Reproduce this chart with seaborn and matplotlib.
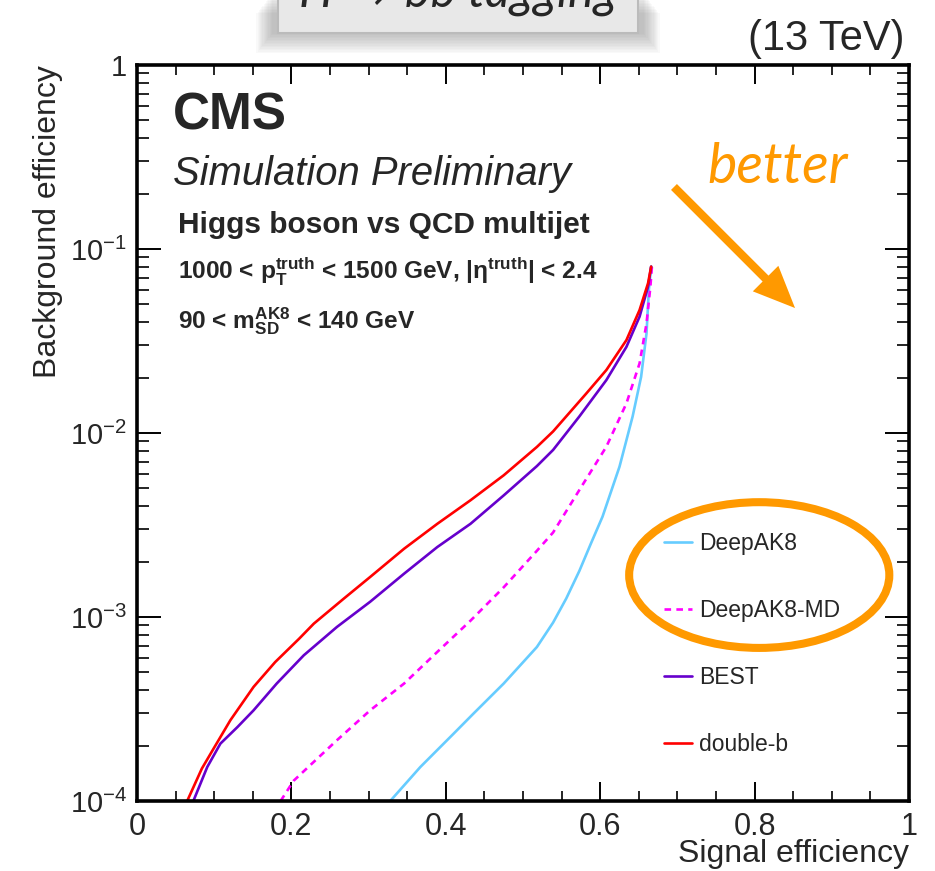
import numpy as np
import pandas as pd
import matplotlib
matplotlib.use('Agg')
import matplotlib.pyplot as plt
import seaborn as sns
from matplotlib.patches import Ellipse, Rectangle, FancyArrowPatch
from matplotlib.ticker import MultipleLocator, LogLocator, NullFormatter, FuncFormatter

# ---------------- data ----------------
taggers = ['DeepAK8', 'DeepAK8-MD', 'BEST', 'double-b']

deepak8_sig = [0.328, 0.367, 0.410, 0.436, 0.475, 0.518, 0.539, 0.556, 0.573, 0.588, 0.603, 0.625, 0.642,
               0.653, 0.660, 0.663, 0.666]
deepak8_bkg = [1.00e-4, 1.53e-4, 2.32e-4, 2.99e-4, 4.35e-4, 6.87e-4, 9.33e-4, 1.26e-3, 1.78e-3, 2.51e-3,
               3.51e-3, 6.56e-3, 1.23e-2, 2.02e-2, 3.48e-2, 5.98e-2, 8.02e-2]

deepak8md_sig = [0.186, 0.203, 0.259, 0.302, 0.346, 0.389, 0.432, 0.475, 0.518, 0.539, 0.573, 0.608, 0.634,
                 0.651, 0.660, 0.665, 0.667]
deepak8md_bkg = [1.00e-4, 1.29e-4, 2.14e-4, 3.11e-4, 4.35e-4, 6.46e-4, 9.55e-4, 1.45e-3, 2.29e-3, 2.88e-3,
                 4.90e-3, 8.43e-3, 1.45e-2, 2.39e-2, 3.94e-2, 6.24e-2, 8.02e-2]

best_sig = [0.073, 0.091, 0.108, 0.130, 0.151, 0.181, 0.216, 0.259, 0.302, 0.346, 0.389, 0.432, 0.475, 0.518,
            0.539, 0.573, 0.608, 0.634, 0.651, 0.662, 0.666]
best_bkg = [1.00e-4, 1.53e-4, 2.05e-4, 2.52e-4, 3.11e-4, 4.35e-4, 6.19e-4, 8.83e-4, 1.21e-3, 1.72e-3, 2.40e-3,
            3.21e-3, 4.58e-3, 6.61e-3, 8.09e-3, 1.23e-2, 1.94e-2, 2.94e-2, 4.29e-2, 6.24e-2, 8.02e-2]

doubleb_sig = [0.065, 0.084, 0.099, 0.121, 0.151, 0.179, 0.210, 0.229, 0.268, 0.302, 0.346, 0.389, 0.432, 0.475,
               0.518, 0.539, 0.582, 0.608, 0.634, 0.651, 0.662, 0.666]
doubleb_bkg = [1.00e-4, 1.50e-4, 1.92e-4, 2.75e-4, 4.17e-4, 5.69e-4, 7.62e-4, 9.20e-4, 1.26e-3, 1.65e-3, 2.35e-3,
               3.21e-3, 4.31e-3, 5.89e-3, 8.40e-3, 1.02e-2, 1.64e-2, 2.20e-2, 3.20e-2, 4.66e-2, 6.52e-2, 8.02e-2]

x_ticks = [0, 0.2, 0.4, 0.6, 0.8, 1.0]
y_ticks = [1e-4, 1e-3, 1e-2, 1e-1, 1]
y_tick_labels = [r'$10^{-4}$', r'$10^{-3}$', r'$10^{-2}$', r'$10^{-1}$', '1']

colors = {'DeepAK8': '#66CCFF', 'DeepAK8-MD': '#FF00FF', 'BEST': '#6600CC', 'double-b': '#FF0000'}
dashes = {'DeepAK8': '', 'DeepAK8-MD': (2.5, 2.0), 'BEST': '', 'double-b': ''}
orange = '#FF9900'

frames = []
for name, s, b in [('DeepAK8', deepak8_sig, deepak8_bkg),
                   ('DeepAK8-MD', deepak8md_sig, deepak8md_bkg),
                   ('BEST', best_sig, best_bkg),
                   ('double-b', doubleb_sig, doubleb_bkg)]:
    frames.append(pd.DataFrame({'signal': s, 'background': b, 'tagger': name}))
df = pd.concat(frames, ignore_index=True)

# ---------------- style ----------------
sns.set_style('ticks')
plt.rcParams['font.family'] = ['Liberation Sans', 'DejaVu Sans']
plt.rcParams['mathtext.fontset'] = 'custom'
plt.rcParams['mathtext.rm'] = 'Liberation Sans'
plt.rcParams['mathtext.sf'] = 'Liberation Sans'
plt.rcParams['mathtext.it'] = 'Liberation Sans:italic'
plt.rcParams['mathtext.bf'] = 'Liberation Sans:bold'

W, H = 935, 871
fig = plt.figure(figsize=(W / 100, H / 100), dpi=100)
ax = fig.add_axes([137 / W, 1 - 801 / H, 772 / W, 736 / H])

sns.lineplot(data=df, x='signal', y='background', hue='tagger', style='tagger',
             hue_order=taggers, style_order=taggers, palette=colors, dashes=dashes,
             sort=False, estimator=None, linewidth=1.9, ax=ax)

ax.set_yscale('log')
ax.set_xlim(0, 1)
ax.set_ylim(1e-4, 1)

ax.set_xticks(x_ticks)
ax.xaxis.set_major_formatter(FuncFormatter(lambda v, p: f'{v:g}'))
ax.xaxis.set_minor_locator(MultipleLocator(0.05))
ax.set_yticks(y_ticks)
ax.set_yticklabels(y_tick_labels)
ax.yaxis.set_minor_locator(LogLocator(base=10, subs=np.arange(2, 10)))
ax.yaxis.set_minor_formatter(NullFormatter())

for sp in ax.spines.values():
    sp.set_linewidth(2.6)
    sp.set_color('black')
ax.tick_params(which='both', direction='in', top=True, right=True, color='black')
ax.tick_params(axis='x', which='major', length=14, width=1.4, labelsize=22, pad=8)
ax.tick_params(axis='x', which='minor', length=7, width=1.2)
ax.tick_params(axis='y', which='major', length=17, width=1.4, labelsize=21, pad=7)
ax.tick_params(axis='y', which='minor', length=8.5, width=1.2)

ax.set_xlabel('Signal efficiency', fontsize=23, loc='right')
ax.xaxis.set_label_coords(1.0, -0.052)
ax.set_ylabel('Background efficiency', fontsize=23, loc='top')
ax.yaxis.set_label_coords(-0.096, 1.0)

# legend
handles, labels = ax.get_legend_handles_labels()
leg = ax.legend(handles, labels, loc='upper left', bbox_to_anchor=(0.683, 0.366),
                frameon=False, fontsize=16.5, handlelength=1.2, handletextpad=0.3,
                labelspacing=1.93, borderpad=0, borderaxespad=0)

# texts in the frame
ax.text(0.0466, 0.912, 'CMS', fontsize=37, fontweight='bold', transform=ax.transAxes, va='baseline')
ax.text(0.047, 0.837, 'Simulation Preliminary', fontsize=28.8, style='italic',
        transform=ax.transAxes, va='baseline')
ax.text(0.053, 0.772, 'Higgs boson vs QCD multijet', fontsize=21.5, fontweight='bold',
        transform=ax.transAxes, va='baseline')
ax.text(0.053, 0.709, r'1000 < p$_{\mathbf{T}}^{\mathbf{truth}}$ < 1500 GeV, |η$^{\mathbf{truth}}$| < 2.4',
        fontsize=17.6, fontweight='bold', transform=ax.transAxes, va='baseline')
ax.text(0.053, 0.642, r'90 < m$_{\mathbf{SD}}^{\mathbf{AK8}}$ < 140 GeV',
        fontsize=17.6, fontweight='bold', transform=ax.transAxes, va='baseline')

# orange ellipse around DeepAK8 entries
ax.add_patch(Ellipse((0.806, 0.307), 0.337, 0.198, transform=ax.transAxes, fill=False,
                     edgecolor=orange, linewidth=5.8, clip_on=False, zorder=5))

# "better" and arrow
fig.text(707 / W, 1 - 183 / H, 'better', fontsize=40, style='italic', color=orange,
         family=['Lato', 'DejaVu Sans'], va='baseline', ha='left')
arrow = FancyArrowPatch((672, H - 185), (797, H - 310), transform=None,
                        arrowstyle='simple,tail_width=0.3,head_width=1.3,head_length=1.5',
                        mutation_scale=20, color=orange, linewidth=0)
fig.add_artist(arrow)

# top label box (cropped at the top), with soft shadow
for k in range(14):
    fig.add_artist(Rectangle(((272 - k * 1.2) / W, 1 - (34 + k * 1.5) / H), (372 + k * 2.4) / W, 40 / H,
                             transform=fig.transFigure, facecolor='#707070', alpha=0.035,
                             edgecolor='none', zorder=1))
fig.add_artist(Rectangle((278 / W, 1 - 33 / H), 360 / W, 60 / H, transform=fig.transFigure,
                         facecolor='#E8E8E8', edgecolor='#BBBBBB', linewidth=1.5, zorder=2))
fig.text(458 / W, 1 - 7 / H, 'H → bb tagging', fontsize=35, style='italic',
         family=['Lato', 'DejaVu Sans'], ha='center', va='baseline', zorder=3)

fig.text(905 / W, 1 - 50 / H, '(13 TeV)', fontsize=30, ha='right', va='baseline')

fig.savefig('out.png', dpi=100)
